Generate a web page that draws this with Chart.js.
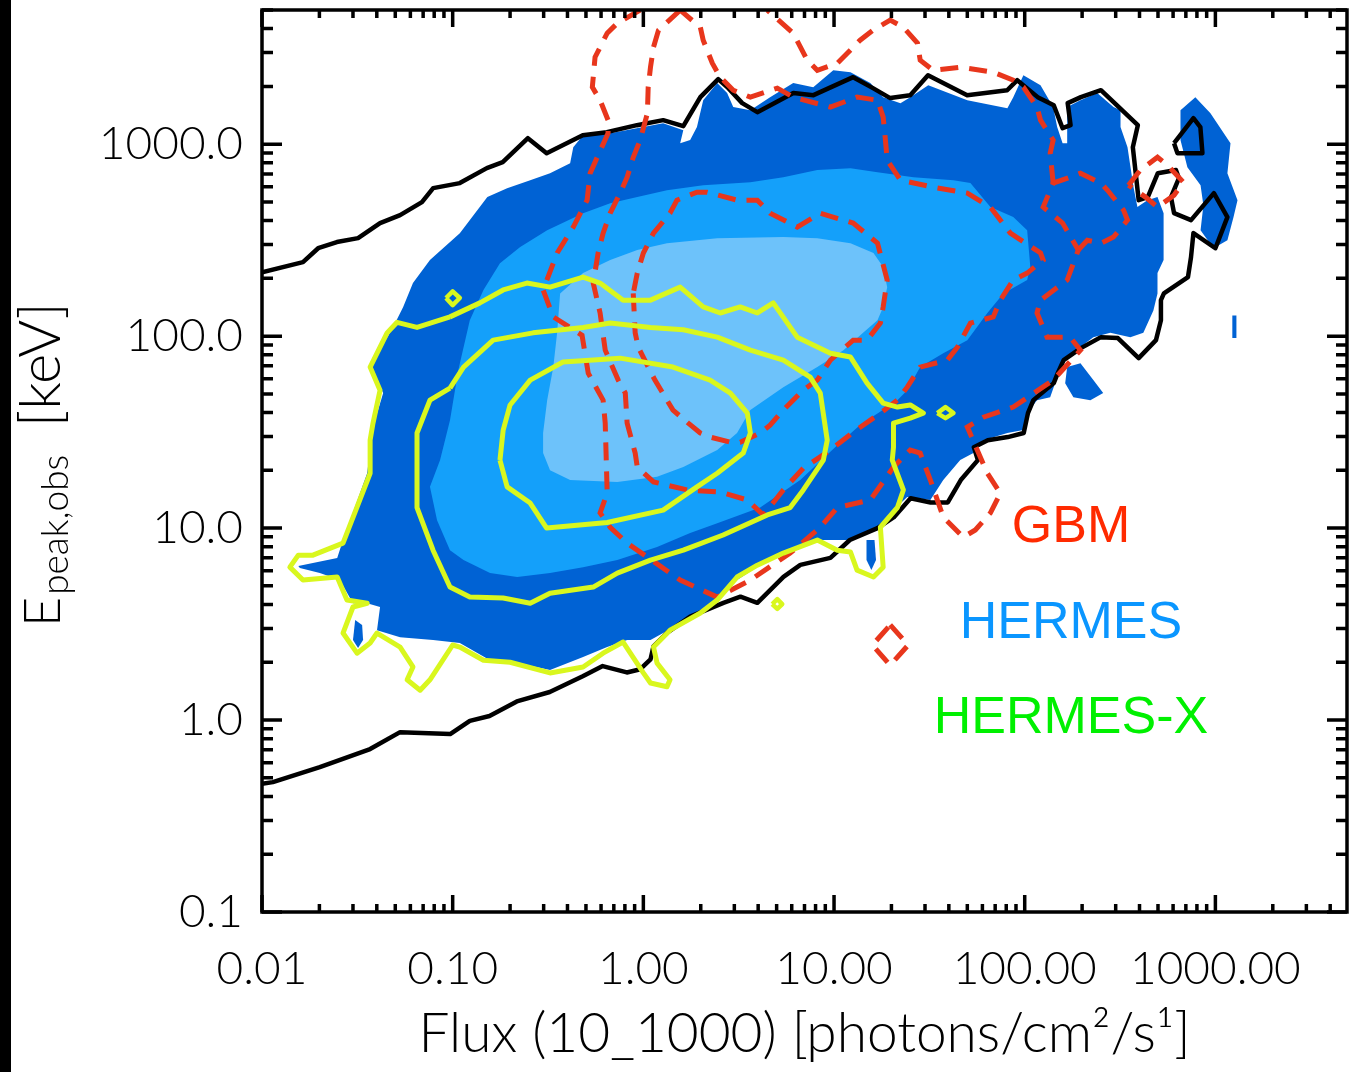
<!DOCTYPE html>
<html>
<head>
<meta charset="utf-8">
<script src="https://cdn.jsdelivr.net/npm/chart.js@4.4.1/dist/chart.umd.min.js"></script>
<style>
  html, body { margin: 0; padding: 0; background: #fff; }
  #wrap { width: 1357px; height: 1072px; }
</style>
</head>
<body>
<div id="wrap"><canvas id="epeakChart" width="1357" height="1072"></canvas></div>
<script>
// axis ticks
const xTickValues = [0.01, 0.1, 1, 10, 100, 1000];
const xTickLabels = ['0.01', '0.10', '1.00', '10.00', '100.00', '1000.00'];
const yTickValues = [0.1, 1, 10, 100, 1000];
const yTickLabels = ['0.1', '1.0', '10.0', '100.0', '1000.0'];
const minorSteps = [2, 3, 4, 5, 6, 7, 8, 9];

// HERMES density levels (filled), [flux, Epeak]
const hermesOuter = [[0.0155,6.34],[0.0248,6.98],[0.0266,8.66],[0.0356,19.3],[0.0382,33.6],[0.0432,50.5],[0.0369,69.0],[0.0486,111],[0.0550,142],[0.0619,189],[0.0760,249],[0.109,344],[0.152,530],[0.193,590],[0.255,649],[0.324,706],[0.413,796],[0.429,964],[0.483,1114],[0.670,1141],[1.27,1285],[1.62,1183],[1.56,1012],[1.76,1050],[1.91,1227],[2.06,1694],[2.44,2080],[2.75,1845],[2.96,1560],[3.64,1503],[4.62,1758],[6.11,2080],[7.78,1982],[9.91,2427],[12.2,2371],[15.5,2080],[18.1,1758],[22.3,1636],[25.1,1758],[31.2,2028],[50.0,1694],[81.1,1540],[87.1,1758],[98.4,2286],[121,2028],[141,1560],[148,1227],[158,1012],[167,1012],[167,1560],[196,1694],[240,1845],[292,1560],[318,1503],[318,1227],[346,964],[372,597],[390,470],[440,511],[497,530],[535,437],[535,249],[497,213],[497,167],[473,136],[419,104],[358,98.8],[281,104],[229,98.8],[196,87.7],[167,77.8],[148,61.1],[136,48.1],[116,46.4],[103,39.7],[98.4,32.4],[81.1,31.3],[60.7,28.7],[53.8,24.6],[45.9,22.6],[37.4,17.8],[32.0,14.0],[24.2,14.5],[19.7,12.0],[17.5,10.1],[12.2,8.66],[8.17,8.66],[5.89,7.67],[4.26,6.58],[3.10,5.36],[2.44,4.22],[1.76,3.32],[1.27,2.84],[1.09,2.61],[0.822,2.61],[0.646,2.40],[0.483,2.13],[0.324,1.82],[0.218,1.98],[0.157,2.05],[0.109,2.52],[0.0789,2.61],[0.0530,2.70],[0.0401,2.94],[0.0416,3.88],[0.0356,4.06],[0.0300,4.06],[0.0256,5.36],[0.0201,5.83],[0.0158,6.19]];
const hermesIslandRight = [[656,1503],[785,1758],[942,1449],[1200,1012],[1156,706],[1306,511],[1245,417],[1156,316],[977,287],[836,356],[865,481],[836,611],[713,759],[656,1050],[656,1503]];
const hermesIslandLow = [[167,69.0],[196,72.3],[229,59.0],[258,50.5],[221,46.4],[180,48.1],[163,56.9],[167,69.0]];
const hermesIslandDash = [[1227,128],[1289,128],[1289,97.7],[1227,97.7],[1227,128]];
const hermesIslandMid = [[14.8,8.66],[16.3,8.66],[16.6,6.81],[15.7,6.04],[14.8,6.81],[14.8,8.66]];
const hermesIslandLeft = [[0.0308,3.32],[0.0335,3.13],[0.0339,2.61],[0.0319,2.37],[0.0300,2.61],[0.0308,3.32]];
const hermesMiddle = [[0.0760,16.4],[0.0859,22.6],[0.0968,36.5],[0.107,66.5],[0.123,121],[0.145,174],[0.177,240],[0.226,291],[0.313,356],[0.483,437],[0.670,493],[0.929,530],[1.33,575],[2.06,611],[3.64,634],[5.42,673],[8.17,733],[12.2,750],[16.9,714],[26.1,673],[42.3,649],[51.9,627],[66.1,470],[87.1,417],[103,356],[107,229],[103,196],[77.3,167],[63.7,132],[50.0,95.3],[37.4,81.5],[28.3,69.0],[24.2,52.3],[21.5,46.4],[13.7,34.4],[10.4,27.0],[6.65,17.8],[4.10,12.8],[2.44,10.6],[1.76,9.42],[1.18,7.96],[0.730,6.81],[0.483,6.26],[0.324,5.83],[0.218,5.56],[0.157,5.83],[0.114,6.81],[0.0968,7.67],[0.0828,11.0],[0.0760,16.4]];
const hermesInner = [[0.366,167],[0.483,213],[0.670,249],[0.929,281],[1.33,305],[2.44,324],[5.42,328],[8.17,324],[12.2,305],[16.1,271],[18.1,229],[19.0,180],[18.1,142],[16.9,121],[14.2,104],[11.2,84.5],[8.17,69.0],[5.42,54.2],[3.64,41.2],[3.10,31.3],[2.44,25.5],[1.62,20.8],[1.18,18.5],[0.730,17.4],[0.413,17.8],[0.324,20.0],[0.298,24.6],[0.298,31.3],[0.313,46.4],[0.337,69.0],[0.353,104],[0.366,167]];

// black outer contour
const blackOuter = [[0.01,215],[0.0164,243],[0.0197,287],[0.0247,309],[0.0319,324],[0.0416,388],[0.053,427],[0.069,499],[0.079,590],[0.109,627],[0.151,750],[0.183,806],[0.248,1075],[0.311,898],[0.481,1114],[0.643,1155],[0.925,1256],[1.27,1334],[1.62,1241],[1.99,1758],[2.47,2183],[2.79,1958],[3.30,1636],[3.96,1468],[6.12,1845],[7.80,1800],[12.6,2234],[16.0,1958],[19.7,1738],[25.1,1800],[31.1,2286],[49.9,1800],[80.9,1910],[91.4,2154],[117,1758],[142,1596],[158,1211],[174,1256],[168,1636],[197,1758],[251,1910],[392,1256],[369,964],[396,511],[442,530],[499,706],[621,733],[644,665],[585,530],[607,437],[745,402],[982,556],[1156,417],[1000,287],[767,344],[745,258],[718,203],[537,167],[518,154],[518,121],[488,95.3],[396,76.8],[308,97.7],[251,98.8],[197,86.6],[160,75.0],[149,64.1],[142,56.9],[111,46.4],[104,39.7],[98.8,31.3],[81.5,29.8],[64.0,28.7],[54.1,26.4],[56.8,22.6],[46.2,17.8],[39.5,13.6],[32.1,13.6],[25.2,14.3],[20.6,11.4],[16.9,10.0],[12.1,8.67],[9.57,7.00],[6.66,6.43],[5.43,5.57],[3.96,4.08],[3.23,4.39],[2.63,4.08],[1.76,3.46],[1.34,2.86],[1.13,2.42],[1.09,2.07],[0.964,1.84],[0.819,1.77],[0.612,1.91],[0.481,1.69],[0.323,1.40],[0.217,1.25],[0.156,1.05],[0.123,0.99],[0.097,0.845],[0.053,0.865],[0.0369,0.706],[0.0201,0.569],[0.0114,0.475],[0.01,0.465]];
const blackIsland = [[607,1012],[767,1365],[834,1227],[855,898],[632,898],[607,1012]];

// HERMES-X contours
const hxOuter = [[0.0968,126],[0.139,149],[0.184,174],[0.245,189],[0.324,180],[0.483,203],[0.593,189],[0.783,154],[1.09,154],[1.56,180],[2.06,142],[2.53,132],[3.22,142],[3.96,132],[4.80,149],[6.41,98.8],[9.57,81.5],[12.2,77.8],[14.9,56.9],[18.1,44.8],[21.5,42.7],[25.1,43.8],[29.4,39.7],[25.1,37.4],[20.5,35.2],[20.5,26.4],[20.2,22.6],[23.1,15.8],[21.5,12.8],[17.5,10.1],[18.1,6.26],[16.1,5.56],[13.2,6.04],[12.2,7.50],[10.4,7.67],[8.17,8.66],[5.42,7.41],[3.96,6.41],[3.10,5.56],[2.44,4.22],[1.99,3.61],[1.38,2.94],[1.13,2.40],[1.18,1.98],[1.38,1.62],[1.33,1.49],[1.09,1.56],[1.00,1.76],[0.783,2.55],[0.615,2.23],[0.483,1.89],[0.324,1.76],[0.200,2.00],[0.145,2.05],[0.109,2.40],[0.100,2.46],[0.0760,1.62],[0.0675,1.43],[0.0577,1.62],[0.0619,1.89],[0.0530,2.40],[0.0401,2.84],[0.0369,2.52],[0.0315,2.23],[0.0266,2.84],[0.0300,3.88],[0.0356,4.06],[0.0279,4.22],[0.0248,5.56],[0.0164,5.36],[0.0140,6.26],[0.0155,7.23],[0.0185,7.23],[0.0266,8.35],[0.0369,19.3],[0.0369,28.7],[0.0382,35.2],[0.0416,52.3],[0.0369,69.0],[0.0453,104],[0.0511,118],[0.0650,111],[0.0968,126]];
const hxMiddle = [[0.0968,53.6],[0.114,69.0],[0.163,95.3],[0.264,104],[0.483,111],[0.670,117],[1.09,111],[1.62,108],[2.44,98.8],[3.64,84.5],[5.42,75.0],[7.50,61.1],[8.47,50.5],[9.21,28.7],[8.79,22.6],[6.90,15.8],[5.89,12.8],[4.47,11.7],[2.62,9.20],[1.62,7.67],[1.09,6.81],[0.730,5.83],[0.546,4.93],[0.324,4.58],[0.255,4.06],[0.184,4.32],[0.123,4.37],[0.0968,4.93],[0.0789,7.67],[0.0650,12.8],[0.0650,20.0],[0.0650,31.3],[0.0760,46.4],[0.0968,53.6]];
const hxInner = [[0.177,22.6],[0.184,32.4],[0.200,43.8],[0.255,59.0],[0.379,73.3],[0.755,76.8],[1.43,69.0],[2.24,59.0],[2.86,50.5],[3.51,39.7],[3.64,31.3],[3.34,24.6],[2.44,19.3],[1.91,16.4],[1.27,12.4],[0.646,10.7],[0.311,10.0],[0.255,13.5],[0.193,16.4],[0.177,22.6]];
const hxDot1 = [[0.0923,158],[0.100,171],[0.109,158],[0.100,145],[0.0923,158]];
const hxDot2 = [[34.8,39.7],[38.4,42.7],[42.3,39.7],[38.4,37.4],[34.8,39.7]];
const hxDot3 = [[4.74,4.02],[5.04,4.26],[5.35,4.02],[5.04,3.79],[4.74,4.02]];

// GBM contours (dashed)
const gbmA = [[0.962,4990],[0.730,4266],[0.646,3784],[0.558,2838],[0.540,1982],[0.593,1694],[0.653,1334],[0.653,1141],[0.573,855],[0.526,706],[0.507,511],[0.429,370],[0.353,271],[0.298,174],[0.337,126],[0.477,101],[0.514,64.1],[0.615,46.4],[0.631,35.2],[0.646,15.2],[0.593,12.0],[0.670,10.1],[0.822,8.35],[1.05,7.06],[1.56,5.36],[2.44,4.37],[3.64,5.36],[5.89,7.41],[8.47,10.1],[10.4,12.8],[15.5,14.0],[20.5,20.8],[25.1,25.5],[28.3,24.6],[32.0,17.8],[37.4,11.4],[47.6,8.97],[55.1,9.77],[66.1,12.0],[74.5,15.2],[63.7,19.3],[50.0,33.6],[60.7,37.8],[87.1,42.7],[141,59.0],[196,84.5],[173,98.8],[131,98.8],[116,132],[121,154],[167,196],[191,281]];
const gbmRing = [[191,281],[213,316],[251,305],[292,328],[346,402],[330,453],[272,575],[251,627],[196,706],[173,673],[141,627],[125,470],[158,388],[191,281]];
const gbmTop = [[141,627],[136,898],[141,1050],[121,1334],[116,1560],[98.4,1982],[87.1,2154],[68.4,2371],[45.9,2518],[33.1,2427],[28.3,2738],[27.4,3357],[23.1,4064],[19.7,4426],[16.0,3922],[13.7,3481],[10.4,2640],[8.17,2427],[7.24,2738],[6.11,3784],[4.47,4990]];
const gbmB = [[1.56,4990],[1.20,3922],[1.13,3199],[1.09,2518],[1.06,1982],[1.05,1449],[0.962,1050],[0.885,855],[0.822,673],[0.755,556],[0.670,437],[0.615,344],[0.579,271],[0.546,189],[0.593,132],[0.631,84.5],[0.738,59.0],[0.804,50.5],[0.822,35.2],[0.906,24.6],[0.929,20.8],[1.13,17.4],[1.70,15.8],[2.53,15.4],[3.51,14.0],[4.26,11.7],[5.42,15.8],[6.90,20.5],[9.57,25.5],[12.6,31.6],[17.5,39.7],[21.5,46.4],[24.2,54.2],[28.3,69.0],[39.3,75.0],[44.4,87.7],[51.9,117],[68.4,126],[74.5,154],[87.1,196],[103,213],[125,249],[121,271],[84.1,344],[66.1,470],[50.0,556],[33.1,597],[22.3,649],[19.0,826],[18.6,1050],[18.1,1384],[16.9,1694],[13.2,1758],[9.57,1560],[6.11,1758],[5.04,1958],[3.64,1758],[2.96,1910],[2.53,2234],[2.30,2640],[2.06,3481],[1.99,4064],[1.56,4990]];
const gbmC = [[0.885,167],[0.906,104],[0.940,87.7],[1.06,69.0],[1.15,59.0],[1.33,46.4],[1.43,41.2],[1.72,35.2],[1.99,31.3],[2.24,29.8],[2.86,28.0],[3.22,28.0],[4.10,31.3],[4.62,34.4],[5.42,41.2],[6.90,52.3],[8.17,59.0],[9.57,75.0],[12.6,95.3],[14.9,95.3],[17.5,117],[18.1,142],[19.0,196],[16.9,305],[12.6,388],[8.47,437],[6.41,370],[4.62,437],[3.96,511],[3.10,511],[2.16,562],[1.91,562],[1.50,511],[1.38,437],[1.13,344],[1.00,271],[0.929,213],[0.885,167]];
const gbmD = [[350,611],[404,733],[497,855],[560,778],[679,634],[607,542],[497,470],[430,530],[350,611]];
const gbmE = [[19.7,3.13],[24.5,2.46],[19.7,1.93],[15.9,2.46],[19.7,3.13]];

const legendItems = [
    { text: 'GBM', color: '#ff2a00' },
    { text: 'HERMES', color: '#0a96ff' },
    { text: 'HERMES-X', color: '#00f000' }
];

const DARK = '#0062d4';
const MID = '#14a0fa';
const LIGHT = '#6dc2fa';
const YELLOW = '#d9f71e';
const RED = '#e8361c';

function pts(arr) {
    return arr.map(p => ({ x: p[0], y: p[1] }));
}

function filled(arr, color, order) {
    return { data: pts(arr), showLine: true, pointRadius: 0, borderWidth: 0,
             borderColor: color, backgroundColor: color, fill: 'shape', order: order };
}
function solid(arr, color, width, order) {
    return { data: pts(arr), showLine: true, pointRadius: 0, borderWidth: width,
             borderColor: color, fill: false, order: order, borderJoinStyle: 'round' };
}
function dashed(arr, order) {
    return { data: pts(arr), showLine: true, pointRadius: 0, borderWidth: 5,
             borderColor: RED, borderDash: [18, 11], fill: false, order: order };
}

// frame, inward ticks, titles and legend text
const chromePlugin = {
    id: 'chrome',
    beforeDraw(chart) {
        const ctx = chart.ctx;
        ctx.save();
        ctx.fillStyle = '#fff';
        ctx.fillRect(0, 0, chart.width, chart.height);
        ctx.fillStyle = '#000';
        ctx.fillRect(0, 0, 11, chart.height);
        ctx.restore();
    },
    afterDraw(chart) {
        const ctx = chart.ctx;
        const a = chart.chartArea;
        const xs = chart.scales.x, ys = chart.scales.y;
        ctx.save();
        ctx.strokeStyle = '#000';
        ctx.lineWidth = 3.5;
        ctx.strokeRect(a.left, a.top, a.right - a.left, a.bottom - a.top);

        ctx.beginPath();
        xTickValues.forEach(d => {
            const all = [[d, 17]].concat(minorSteps.map(m => [d * m, 8]));
            all.forEach(([v, len]) => {
                if (v > xs.max) return;
                const px = xs.getPixelForValue(v);
                ctx.moveTo(px, a.bottom); ctx.lineTo(px, a.bottom - len);
                ctx.moveTo(px, a.top); ctx.lineTo(px, a.top + len);
            });
        });
        yTickValues.forEach(d => {
            const all = [[d, 20]].concat(minorSteps.map(m => [d * m, 11]));
            all.forEach(([v, len]) => {
                if (v > ys.max) return;
                const py = ys.getPixelForValue(v);
                ctx.moveTo(a.left, py); ctx.lineTo(a.left + len, py);
                ctx.moveTo(a.right, py); ctx.lineTo(a.right - len, py);
            });
        });
        ctx.lineWidth = 3.5;
        ctx.stroke();

        // x title
        ctx.fillStyle = '#000';
        ctx.font = '300 55px Lato, "DejaVu Sans", sans-serif';
        ctx.textAlign = 'center';
        ctx.textBaseline = 'alphabetic';
        ctx.fillText('Flux (10_1000) [photons/cm\u00b2/s\u00b9]', (a.left + a.right) / 2, 1052);

        // y title, rotated
        ctx.save();
        ctx.translate(60, 627);
        ctx.rotate(-Math.PI / 2);
        ctx.textAlign = 'left';
        ctx.font = '300 52px Lato, "DejaVu Sans", sans-serif';
        ctx.fillText('E', 0, 0);
        const ew = ctx.measureText('E').width;
        ctx.font = '300 37px Lato, "DejaVu Sans", sans-serif';
        ctx.fillText('peak,obs', ew + 2, 8);
        ctx.font = '300 58px Lato, "DejaVu Sans", sans-serif';
        ctx.fillText('[keV]', 200, 0);
        ctx.restore();

        // legend text
        ctx.font = '52px "Liberation Sans", Arial, sans-serif';
        ctx.textAlign = 'center';
        legendItems.forEach((it, i) => {
            ctx.fillStyle = it.color;
            ctx.fillText(it.text, 1071, 542 + i * 95.5);
        });
        ctx.restore();
    }
};

const tickFont = { family: 'Lato, "DejaVu Sans", sans-serif', size: 46, weight: '300' };

new Chart(document.getElementById('epeakChart').getContext('2d'), {
    type: 'scatter',
    data: {
        datasets: [
            filled(hermesOuter, DARK, 30),
            filled(hermesIslandRight, DARK, 30),
            filled(hermesIslandLow, DARK, 30),
            filled(hermesIslandDash, DARK, 30),
            filled(hermesIslandMid, DARK, 30),
            filled(hermesIslandLeft, DARK, 30),
            filled(hermesMiddle, MID, 29),
            filled(hermesInner, LIGHT, 28),
            solid(blackOuter, '#000', 4.5, 20),
            solid(blackIsland, '#000', 4.5, 20),
            dashed(gbmA, 15),
            dashed(gbmRing, 15),
            dashed(gbmTop, 15),
            dashed(gbmB, 15),
            dashed(gbmC, 15),
            dashed(gbmD, 15),
            dashed(gbmE, 15),
            solid(hxOuter, YELLOW, 5, 10),
            solid(hxMiddle, YELLOW, 5, 10),
            solid(hxInner, YELLOW, 5, 10),
            solid(hxDot1, YELLOW, 4.5, 10),
            solid(hxDot2, YELLOW, 4.5, 10),
            solid(hxDot3, YELLOW, 4.5, 10)
        ]
    },
    options: {
        responsive: false,
        devicePixelRatio: 1,
        animation: false,
        layout: { padding: { left: 0, right: 10, top: 10, bottom: 0 } },
        plugins: {
            legend: { display: false },
            tooltip: { enabled: false },
            title: { display: false }
        },
        scales: {
            x: {
                type: 'logarithmic',
                min: 0.01,
                max: 4900,
                grid: { display: false, drawTicks: false },
                border: { display: false },
                afterBuildTicks: scale => { scale.ticks = xTickValues.map(v => ({ value: v })); },
                afterFit: scale => {
                    scale.height = 160;
                    scale.paddingLeft = 0; scale.paddingRight = 0;
                },
                ticks: {
                    autoSkip: false, maxRotation: 0, minRotation: 0,
                    padding: 30, color: '#000', font: tickFont,
                    callback: (v, i) => xTickLabels[i]
                }
            },
            y: {
                type: 'logarithmic',
                min: 0.1,
                max: 5000,
                grid: { display: false, drawTicks: false },
                border: { display: false },
                afterBuildTicks: scale => { scale.ticks = yTickValues.map(v => ({ value: v })); },
                afterFit: scale => {
                    scale.width = 262;
                    scale.paddingTop = 0; scale.paddingBottom = 0;
                },
                ticks: {
                    autoSkip: false, padding: 19, color: '#000', font: tickFont,
                    callback: (v, i) => yTickLabels[i]
                }
            }
        }
    },
    plugins: [chromePlugin]
});
</script>
</body>
</html>
